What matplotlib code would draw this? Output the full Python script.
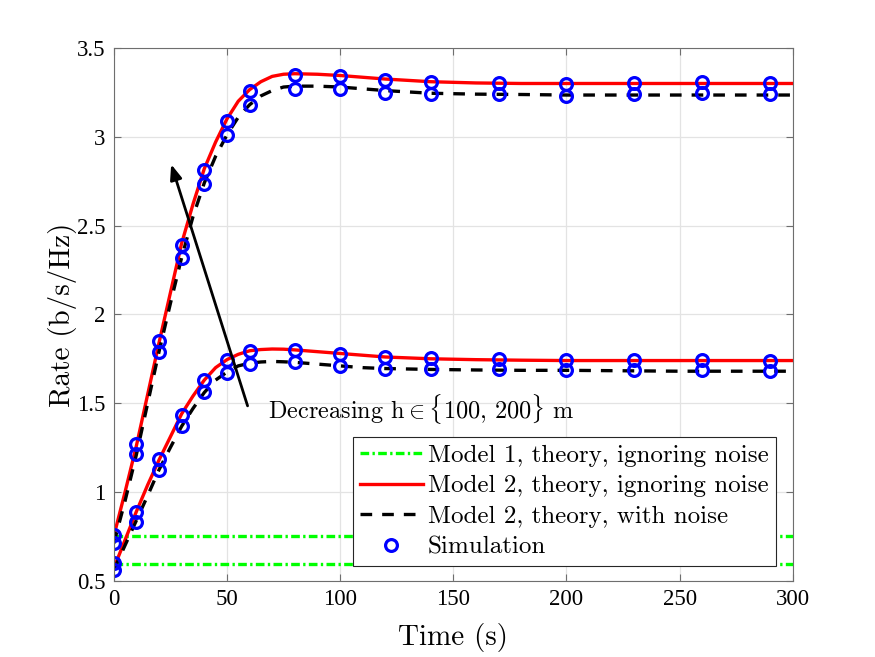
import numpy as np
import matplotlib
matplotlib.use('Agg')
import matplotlib.pyplot as plt

plt.rcParams['font.family'] = 'cmr10'
plt.rcParams['mathtext.fontset'] = 'cm'
plt.rcParams['axes.formatter.use_mathtext'] = True

# instantes simulados
t_sim = [0, 10, 20, 30, 40, 50, 60, 80, 100, 120, 140, 170, 200, 230, 260, 290]

# simulacao - curva superior (sem ruido / com ruido)
sim_up_nf = [0.758, 1.268, 1.85, 2.39, 2.813, 3.09, 3.258, 3.347, 3.343, 3.318, 3.309, 3.30, 3.296, 3.30, 3.31, 3.30]
sim_up_n = [0.712, 1.212, 1.788, 2.315, 2.734, 3.011, 3.18, 3.271, 3.271, 3.245, 3.24, 3.24, 3.23, 3.24, 3.249, 3.24]
# simulacao - curva inferior
sim_lo_nf = [0.60, 0.889, 1.184, 1.436, 1.629, 1.742, 1.794, 1.802, 1.779, 1.76, 1.755, 1.748, 1.745, 1.745, 1.742, 1.735]
sim_lo_n = [0.558, 0.833, 1.124, 1.371, 1.563, 1.67, 1.723, 1.73, 1.712, 1.695, 1.691, 1.69, 1.688, 1.688, 1.685, 1.68]

# curvas teoricas
t_th = [0, 5, 10, 15, 20, 25, 30, 35, 40, 45, 50, 55, 60, 65, 70, 75, 80, 90, 100, 110, 120, 140, 160, 180, 200, 250, 300]
th_up_nf = [0.75, 1.0, 1.26, 1.55, 1.84, 2.12, 2.40, 2.62, 2.82, 2.97, 3.10, 3.20, 3.265, 3.31, 3.34, 3.352, 3.355,
            3.352, 3.345, 3.335, 3.325, 3.31, 3.303, 3.30, 3.30, 3.30, 3.30]
th_up_n = [0.71, 0.95, 1.21, 1.50, 1.79, 2.06, 2.32, 2.55, 2.74, 2.89, 3.01, 3.11, 3.18, 3.23, 3.26, 3.28, 3.285,
           3.285, 3.28, 3.27, 3.26, 3.245, 3.24, 3.238, 3.235, 3.235, 3.235]
th_lo_nf = [0.57, 0.73, 0.89, 1.04, 1.18, 1.31, 1.44, 1.54, 1.63, 1.70, 1.745, 1.775, 1.795, 1.802, 1.805, 1.804, 1.80,
            1.79, 1.78, 1.77, 1.76, 1.75, 1.745, 1.742, 1.74, 1.74, 1.74]
th_lo_n = [0.56, 0.70, 0.84, 0.98, 1.125, 1.25, 1.37, 1.47, 1.56, 1.63, 1.675, 1.71, 1.725, 1.732, 1.735, 1.733, 1.73,
           1.72, 1.71, 1.70, 1.695, 1.69, 1.687, 1.685, 1.685, 1.68, 1.68]

# modelo 1 (constante)
m1_levels = [0.75, 0.595]
t_range = [0, 300]

x_ticks = [0, 50, 100, 150, 200, 250, 300]
y_ticks = [0.5, 1, 1.5, 2, 2.5, 3, 3.5]
y_tick_labels = ['0.5', '1', '1.5', '2', '2.5', '3', '3.5']

fig = plt.figure(figsize=(8.75, 6.57), dpi=100)
ax = fig.add_axes([0.13, 0.116, 0.776, 0.811])

green_dash = (2.6, 1.0, 0.7, 1.0)
for i, lvl in enumerate(m1_levels):
    ax.plot(t_range, [lvl, lvl], color='#00ff00', lw=2.4, dashes=green_dash,
            label='Model 1, theory, ignoring noise' if i == 0 else None)

ax.plot(t_th, th_up_nf, color='red', lw=2.4, label='Model 2, theory, ignoring noise')
ax.plot(t_th, th_lo_nf, color='red', lw=2.4)
ax.plot(t_th, th_up_n, color='black', lw=2.4, dashes=(3.5, 3.0), label='Model 2, theory, with noise')
ax.plot(t_th, th_lo_n, color='black', lw=2.4, dashes=(3.5, 3.0))

for i, ys in enumerate([sim_up_nf, sim_up_n, sim_lo_nf, sim_lo_n]):
    ax.plot(t_sim, ys, 'o', ls='none', mfc='none', mec='blue', mew=2.3, ms=8.5,
            label='Simulation' if i == 0 else None)

ax.annotate('', xy=(25.0, 2.86), xytext=(59.5, 1.47),
            arrowprops=dict(arrowstyle='-|>,head_length=0.9,head_width=0.35', color='black', lw=2.0))
ax.text(68, 1.47, r'Decreasing $\mathrm{h} \in \{100,\, 200\}$ m', fontsize=17.5, va='center', ha='left')

ax.set_xlim(0, 300)
ax.set_ylim(0.5, 3.5)
ax.set_xticks(x_ticks)
ax.set_yticks(y_ticks)
ax.set_yticklabels(y_tick_labels)
ax.set_xticklabels([str(v) for v in x_ticks])
ax.tick_params(direction='in', top=True, right=True, colors='#6e6e6e', length=5, pad=6)
for lab in ax.get_xticklabels() + ax.get_yticklabels():
    lab.set_color('black')
    lab.set_family('Liberation Serif')
    lab.set_fontsize(16.5)
for s in ax.spines.values():
    s.set_color('#6e6e6e')
    s.set_linewidth(0.8)
ax.grid(True, color='#e3e3e3', lw=0.9)
ax.set_axisbelow(True)

ax.set_xlabel('Time (s)', fontsize=21, labelpad=9)
ax.set_ylabel('Rate (b/s/Hz)', fontsize=21, labelpad=0)

leg = ax.legend(loc='lower right', bbox_to_anchor=(0.975, 0.028), fontsize=18, handlelength=2.5,
                handletextpad=0.2, borderpad=0.3, labelspacing=0.32, fancybox=False, framealpha=1,
                edgecolor='#262626', borderaxespad=0)
leg.get_frame().set_linewidth(0.8)

fig.savefig('out.png', dpi=100)
